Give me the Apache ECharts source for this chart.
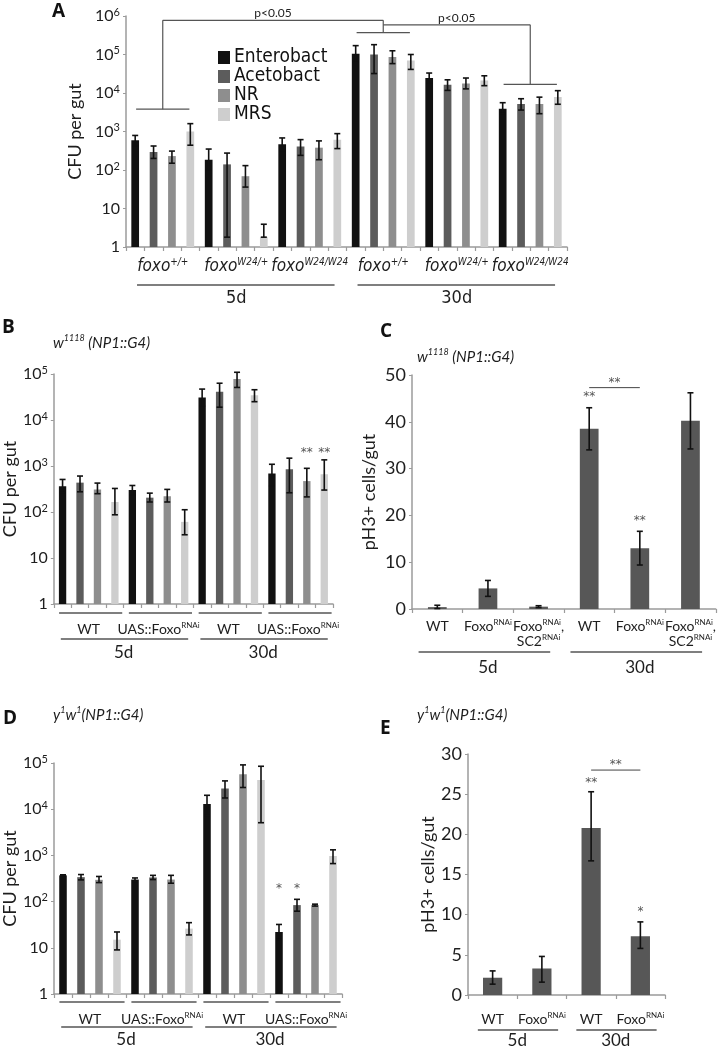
<!DOCTYPE html>
<html>
<head>
<meta charset="utf-8">
<script src="https://cdn.jsdelivr.net/npm/echarts@6/dist/echarts.min.js"></script>
<style>html,body{margin:0;padding:0;background:#fff;}#chart{width:719px;height:1050px;}</style>
</head>
<body>
<div id="chart"></div>
<script>
// ===================== DATA =====================
const seriesNames = ['Enterobact', 'Acetobact', 'NR', 'MRS'];

// ---- Panel A ----
const A_groups = ['foxo^{+/+}', 'foxo^{W24/+}', 'foxo^{W24/W24}', 'foxo^{+/+}', 'foxo^{W24/+}', 'foxo^{W24/W24}'];
const A_periods = ['5d', '30d'];
const A_ent = [590, 185, 465, 105000, 24500, 3900];
const A_ace = [295, 140, 410, 100000, 16500, 5200];
const A_nr  = [230, 69, 380, 86000, 17700, 5200];
const A_mrs = [1000, 1.8, 615, 70000, 21000, 7900];
const A_entErr = [[420, 790], [100, 350], [320, 680], [63000, 170000], [18000, 33000], [2900, 5600]];
const A_aceErr = [[200, 420], [1.8, 275], [240, 615], [32000, 180000], [11700, 22000], [3600, 7100]];
const A_nrErr  = [[150, 310], [36, 130], [185, 570], [58000, 125000], [12800, 24500], [2900, 7800]];
const A_mrsErr = [[440, 1600], [1.8, 3.9], [360, 880], [41000, 100000], [15500, 28000], [5100, 11500]];
// [leftGroup, rightGroup, topValue, leftLegEnd(0=none), rightLegEnd, label]
const A_brackets = [[0, 3, 770000, 3800, 370000, 'p<0.05'], [3, 5, 590000, 0, 16700, 'p<0.05']];

// ---- Panel B ----
const B_title = 'w^{1118} (NP1::G4)';
const B_groups = ['WT', 'UAS::Foxo^{RNAi}', 'WT', 'UAS::Foxo^{RNAi}'];
const B_periods = ['5d', '30d'];
const B_ent = [365, 300, 31000, 690];
const B_ace = [435, 205, 41000, 850];
const B_nr  = [310, 220, 78000, 470];
const B_mrs = [165, 61, 34500, 660];
const B_entErr = [[262, 510], [236, 377], [20000, 47000], [365, 1090]];
const B_aceErr = [[275, 605], [165, 257], [19000, 63000], [262, 1480]];
const B_nrErr  = [[250, 425], [165, 310], [51000, 109000], [213, 890]];
const B_mrsErr = [[87, 325], [32, 112], [25000, 45500], [300, 1360]];
const B_stars = [[3, 2, 2100, '**'], [3, 3, 2100, '**']]; // [group, series, value, text]

// ---- Panel C ----
const C_title = 'w^{1118} (NP1::G4)';
const C_cats = ['WT', 'Foxo^{RNAi}', 'Foxo^{RNAi},\nSC2^{RNAi}', 'WT', 'Foxo^{RNAi}', 'Foxo^{RNAi},\nSC2^{RNAi}'];
const C_periods = ['5d', '30d'];
const C_vals = [0.4, 4.4, 0.5, 38.5, 13.0, 40.2];
const C_err = [[0.1, 0.8], [2.7, 6.1], [0.3, 0.7], [34.0, 43.0], [9.4, 16.6], [34.2, 46.2]];
const C_stars = [[3, 45.8, '**'], [4, 19.3, '**']];
const C_brackets = [[3, 4, 47.3, '**']];

// ---- Panel D ----
const D_title = 'y^{1}w^{1}(NP1::G4)';
const D_groups = ['WT', 'UAS::Foxo^{RNAi}', 'WT', 'UAS::Foxo^{RNAi}'];
const D_periods = ['5d', '30d'];
const D_ent = [370, 300, 13000, 22];
const D_ace = [338, 333, 28000, 84];
const D_nr  = [296, 300, 57000, 84];
const D_mrs = [15, 26, 43000, 970];
const D_entErr = [[360, 380], [275, 325], [7400, 20000], [15, 32]];
const D_aceErr = [[295, 385], [300, 370], [17500, 41000], [62, 112]];
const D_nrErr  = [[258, 350], [250, 370], [29500, 91000], [80, 88]];
const D_mrsErr = [[9, 22], [19, 35], [5100, 85000], [665, 1320]];
const D_stars = [[3, 0, 204, '*'], [3, 1, 204, '*']];

// ---- Panel E ----
const E_title = 'y^{1}w^{1}(NP1::G4)';
const E_cats = ['WT', 'Foxo^{RNAi}', 'WT', 'Foxo^{RNAi}'];
const E_periods = ['5d', '30d'];
const E_vals = [2.15, 3.3, 20.8, 7.3];
const E_err = [[1.35, 3.0], [1.6, 4.8], [16.7, 25.3], [5.8, 9.1]];
const E_stars = [[2, 26.6, '**'], [3, 10.6, '*']];
const E_brackets = [[2, 3, 28.0, '**']];

// ===================== STYLE / BUILD =====================
const SANS = "Lato, 'Open Sans', sans-serif";
const NARROW = "'Liberation Sans Narrow', 'DejaVu Sans Condensed', sans-serif";
const STAR_FONT = "'DejaVu Sans', sans-serif";
const AXIS_GRAY = '#9b9b9b';
const TEXT = '#1e1e1e';
const BAR_COLORS = ['#111111', '#5c5c5c', '#8e8e8e', '#cecece'];
const SINGLE_BAR = '#575757';

function toRich(str, b, s) {
  return str.split('\n').map(line => {
    let out = '', last = 0, m;
    const re = /\^\{([^}]*)\}/g;
    while ((m = re.exec(line))) {
      if (m.index > last) out += '{' + b + '|' + line.slice(last, m.index) + '}';
      out += '{' + s + '|' + m[1] + '}';
      last = re.lastIndex;
    }
    if (last < line.length) out += '{' + b + '|' + line.slice(last) + '}';
    return out;
  }).join('\n');
}

function logLabel(v) {
  const e = Math.round(Math.log10(v));
  if (e === 0) return '{b|1}';
  if (e === 1) return '{b|10}';
  return '{b|10}{s|' + e + '}';
}
const logRich = {
  b: { fontSize: 16, fontFamily: SANS, color: TEXT, lineHeight: 19, verticalAlign: 'middle' },
  s: { fontSize: 11, fontFamily: SANS, color: TEXT, lineHeight: 11, verticalAlign: 'top' }
};
const catRich = {
  n: { fontSize: 14, fontFamily: SANS, color: TEXT, lineHeight: 15, verticalAlign: 'bottom' },
  s: { fontSize: 8, fontFamily: SANS, color: TEXT, lineHeight: 8, verticalAlign: 'top' }
};
const groupRichA = {
  n: { fontSize: 17, fontFamily: NARROW, fontStyle: 'italic', color: TEXT, lineHeight: 18, verticalAlign: 'bottom' },
  s: { fontSize: 10, fontFamily: NARROW, fontStyle: 'italic', color: TEXT, lineHeight: 10, verticalAlign: 'top' }
};
const titleRich = {
  n: { fontSize: 15, fontFamily: SANS, fontStyle: 'italic', fontWeight: 'normal', color: TEXT, lineHeight: 17, verticalAlign: 'bottom' },
  s: { fontSize: 9, fontFamily: SANS, fontStyle: 'italic', fontWeight: 'normal', color: TEXT, lineHeight: 9, verticalAlign: 'top' }
};

const grids = [
  { left: 126, top: 16, width: 441, height: 231 },  // A
  { left: 53, top: 374, width: 280, height: 230 },  // B
  { left: 412, top: 375, width: 304, height: 234 }, // C
  { left: 54, top: 763, width: 288, height: 231 },  // D
  { left: 468, top: 754, width: 197, height: 241 }  // E
];

const xAxes = [], yAxes = [], series = [];

function barAxis(gridIndex, cats) {
  xAxes.push({
    type: 'category', gridIndex, data: cats, position: 'bottom',
    axisLine: { onZero: false, lineStyle: { color: AXIS_GRAY, width: 1.5 } },
    axisTick: { show: true, interval: 0, length: 4, lineStyle: { color: AXIS_GRAY, width: 1.2 } },
    axisLabel: { show: false }, splitLine: { show: false }
  });
  return xAxes.length - 1;
}
function labelAxis(gridIndex, cats, margin, formatter, rich, extra) {
  xAxes.push(Object.assign({
    type: 'category', gridIndex, data: cats, position: 'bottom',
    axisLine: { show: false, onZero: false }, axisTick: { show: false }, splitLine: { show: false },
    axisLabel: { interval: 0, margin, formatter, rich, color: TEXT }
  }, extra || {}));
  return xAxes.length - 1;
}
function logYAxis(gridIndex, max, nameGap) {
  yAxes.push({
    type: 'log', logBase: 10, gridIndex, min: 1, max,
    name: 'CFU per gut', nameLocation: 'middle', nameGap, nameRotate: 90,
    nameTextStyle: { fontSize: 18, fontFamily: SANS, color: TEXT },
    axisLine: { show: true, lineStyle: { color: AXIS_GRAY, width: 1.5 } },
    axisTick: { show: true, length: 3, lineStyle: { color: AXIS_GRAY } },
    splitLine: { show: false }, minorTick: { show: false },
    axisLabel: { formatter: logLabel, rich: logRich, margin: 6 }
  });
  return yAxes.length - 1;
}
function linYAxis(gridIndex, max, interval, nameGap) {
  yAxes.push({
    type: 'value', gridIndex, min: 0, max, interval,
    name: 'pH3+ cells/gut', nameLocation: 'middle', nameGap, nameRotate: 90,
    nameTextStyle: { fontSize: 18, fontFamily: SANS, color: TEXT },
    axisLine: { show: true, lineStyle: { color: AXIS_GRAY, width: 1.5 } },
    axisTick: { show: true, length: 3, lineStyle: { color: AXIS_GRAY } },
    splitLine: { show: false },
    axisLabel: { fontSize: 18, fontFamily: SANS, color: TEXT, margin: 6 }
  });
  return yAxes.length - 1;
}

function renderErr(params, api) {
  const lo = api.coord([api.value(0), api.value(1)]);
  const hi = api.coord([api.value(0), api.value(2)]);
  const x = lo[0], w = 3;
  const st = { stroke: '#111', lineWidth: 1.6 };
  return { type: 'group', children: [
    { type: 'line', shape: { x1: x, y1: lo[1], x2: x, y2: hi[1] }, style: st },
    { type: 'line', shape: { x1: x - w, y1: lo[1], x2: x + w, y2: lo[1] }, style: st },
    { type: 'line', shape: { x1: x - w, y1: hi[1], x2: x + w, y2: hi[1] }, style: st }
  ] };
}
function errSeries(xi, yi, data) {
  series.push({ type: 'custom', xAxisIndex: xi, yAxisIndex: yi, data, encode: { x: 0, y: [1, 2] },
    renderItem: renderErr, clip: false, silent: true, z: 4 });
}
function cfuPanel(xi, yi, nGroups, vals, errs) {
  vals.forEach((v, s) => {
    const data = [];
    for (let g = 0; g < nGroups; g++) for (let k = 0; k < 4; k++) data.push(k === s ? v[g] : null);
    series.push({ type: 'bar', name: seriesNames[s], xAxisIndex: xi, yAxisIndex: yi, data,
      barWidth: '42%', barGap: '-100%', itemStyle: { color: BAR_COLORS[s] }, silent: true });
  });
  const ed = [];
  errs.forEach((e, s) => e.forEach((p, g) => ed.push([g * 4 + s, p[0], p[1]])));
  errSeries(xi, yi, ed);
}
function underline(xi, yi, spans, base, offset, padL, padR) {
  series.push({ type: 'custom', xAxisIndex: xi, yAxisIndex: yi, clip: false, silent: true,
    data: spans.map(s => [s[0], s[1], base]), encode: { x: [0, 1], y: 2 },
    renderItem: (params, api) => {
      const band = api.size([1, 0])[0];
      const cs = params.coordSys;
      const x1 = api.coord([api.value(0), base])[0] - band / 2 + padL * band;
      const x2 = api.coord([api.value(1), base])[0] + band / 2 - padR * band;
      const y = cs.y + cs.height + offset;
      return { type: 'line', shape: { x1, y1: y, x2, y2: y }, style: { stroke: '#555', lineWidth: 1.3 } };
    } });
}
function textEl(x, y, text, font, color) {
  return { type: 'text', style: { x, y, text, fill: color || '#444', font,
    align: 'center', verticalAlign: 'middle', textAlign: 'center', textVerticalAlign: 'middle' } };
}
function stars(xi, yi, items) {
  series.push({ type: 'custom', xAxisIndex: xi, yAxisIndex: yi, clip: false, silent: true, z: 5,
    data: items.map(d => [d[0], d[1]]), encode: { x: 0, y: 1 },
    renderItem: (params, api) => {
      const p = api.coord([api.value(0), api.value(1)]);
      return textEl(p[0], p[1] + 2, items[params.dataIndex][2], '12px ' + STAR_FONT, '#555');
    } });
}
function sigBrackets(xi, yi, items) {
  series.push({ type: 'custom', xAxisIndex: xi, yAxisIndex: yi, clip: false, silent: true, z: 5,
    data: items.map(d => [d[0], d[1], d[2]]), encode: { x: [0, 1], y: 2 },
    renderItem: (params, api) => {
      const a = api.coord([api.value(0), api.value(2)]);
      const b = api.coord([api.value(1), api.value(2)]);
      return { type: 'group', children: [
        { type: 'line', shape: { x1: a[0], y1: a[1], x2: b[0], y2: b[1] }, style: { stroke: '#444', lineWidth: 1 } },
        textEl((a[0] + b[0]) / 2, a[1] - 5, items[params.dataIndex][3], '12px ' + STAR_FONT, '#555')
      ] };
    } });
}

// ---------- Panel A ----------
const A_barCats = [];
A_groups.forEach(g => seriesNames.forEach(s => A_barCats.push(g + ' ' + s)));
const axA = barAxis(0, A_barCats);
labelAxis(0, A_groups, 10, v => toRich(v, 'n', 's'), groupRichA);
labelAxis(0, A_periods, 42, null, null, { axisLabel: { interval: 0, margin: 42, fontSize: 18, fontFamily: NARROW, color: TEXT } });
const ayA = logYAxis(0, 1e6, 33);
cfuPanel(axA, ayA, 6, [A_ent, A_ace, A_nr, A_mrs], [A_entErr, A_aceErr, A_nrErr, A_mrsErr]);
underline(axA, ayA, [[0, 11], [12, 23]], 1, 38, 0.6, 0.65);
series.push({ type: 'custom', xAxisIndex: axA, yAxisIndex: ayA, clip: false, silent: true, z: 5,
  data: A_brackets.map(d => [d[0], d[1], d[2], d[3], d[4]]), encode: { x: 0, y: 2 },
  renderItem: (params, api) => {
    const top = api.value(2), lEnd = api.value(3), rEnd = api.value(4);
    const band = api.size([1, 0])[0];
    const gc = g => (api.coord([g * 4 + 1, top])[0] + api.coord([g * 4 + 2, top])[0]) / 2;
    const xl = gc(api.value(0)), xr = gc(api.value(1));
    const yT = api.coord([0, top])[1];
    const st = { stroke: '#555', lineWidth: 1.2 };
    const ch = [{ type: 'line', shape: { x1: xl, y1: yT, x2: xr, y2: yT }, style: st }];
    [[xl, lEnd], [xr, rEnd]].forEach(([x, e]) => {
      if (e > 0) {
        const yE = api.coord([0, e])[1];
        ch.push({ type: 'line', shape: { x1: x, y1: yT, x2: x, y2: yE }, style: st });
        ch.push({ type: 'line', shape: { x1: x - 1.45 * band, y1: yE, x2: x + 1.45 * band, y2: yE }, style: st });
      }
    });
    ch.push(textEl((xl + xr) / 2, yT - 7, A_brackets[params.dataIndex][5], '12px ' + SANS, '#222'));
    return { type: 'group', children: ch };
  } });

// ---------- Panel B ----------
const B_barCats = [];
B_groups.forEach(g => seriesNames.forEach(s => B_barCats.push(g + ' ' + s)));
const axB = barAxis(1, B_barCats);
labelAxis(1, B_groups, 17, v => toRich(v, 'n', 's'), catRich);
labelAxis(1, B_periods, 40, null, null, { axisLabel: { interval: 0, margin: 40, fontSize: 17, fontFamily: SANS, color: TEXT } });
const ayB = logYAxis(1, 1e5, 30);
cfuPanel(axB, ayB, 4, [B_ent, B_ace, B_nr, B_mrs], [B_entErr, B_aceErr, B_nrErr, B_mrsErr]);
underline(axB, ayB, [[0, 3], [4, 7], [8, 11], [12, 15]], 1, 9, 0.3, 0.08);
underline(axB, ayB, [[0, 7], [8, 15]], 1, 35, 0.4, 0.3);
stars(axB, ayB, B_stars.map(s => [s[0] * 4 + s[1], s[2], s[3]]));

// ---------- Panel C ----------
const axC = barAxis(2, C_cats);
xAxes[axC].axisLabel = { show: true, interval: 0, margin: 9, formatter: v => toRich(v, 'n', 's'), rich: catRich, color: TEXT };
labelAxis(2, C_periods, 50, null, null, { axisLabel: { interval: 0, margin: 50, fontSize: 17, fontFamily: SANS, color: TEXT } });
const ayC = linYAxis(2, 50, 10, 34);
series.push({ type: 'bar', xAxisIndex: axC, yAxisIndex: ayC, data: C_vals, barWidth: '37%',
  itemStyle: { color: SINGLE_BAR }, silent: true });
errSeries(axC, ayC, C_err.map((e, i) => [i, e[0], e[1]]));
underline(axC, ayC, [[0, 2], [3, 5]], 0, 43, 0.13, 0.27);
stars(axC, ayC, C_stars);
sigBrackets(axC, ayC, C_brackets);

// ---------- Panel D ----------
const D_barCats = [];
D_groups.forEach(g => seriesNames.forEach(s => D_barCats.push(g + ' ' + s)));
const axD = barAxis(3, D_barCats);
labelAxis(3, D_groups, 17, v => toRich(v, 'n', 's'), catRich);
labelAxis(3, D_periods, 37, null, null, { axisLabel: { interval: 0, margin: 37, fontSize: 17, fontFamily: SANS, color: TEXT } });
const ayD = logYAxis(3, 1e5, 31);
cfuPanel(axD, ayD, 4, [D_ent, D_ace, D_nr, D_mrs], [D_entErr, D_aceErr, D_nrErr, D_mrsErr]);
underline(axD, ayD, [[0, 3], [4, 7], [8, 11], [12, 15]], 1, 8, 0.3, 0.08);
underline(axD, ayD, [[0, 7], [8, 15]], 1, 33, 0.4, 0.3);
stars(axD, ayD, D_stars.map(s => [s[0] * 4 + s[1], s[2], s[3]]));

// ---------- Panel E ----------
const axE = barAxis(4, E_cats);
xAxes[axE].axisLabel = { show: true, interval: 0, margin: 16, formatter: v => toRich(v, 'n', 's'), rich: catRich, color: TEXT };
labelAxis(4, E_periods, 37, null, null, { axisLabel: { interval: 0, margin: 37, fontSize: 17, fontFamily: SANS, color: TEXT } });
const ayE = linYAxis(4, 30, 5, 27);
series.push({ type: 'bar', xAxisIndex: axE, yAxisIndex: ayE, data: E_vals, barWidth: '39%',
  itemStyle: { color: SINGLE_BAR }, silent: true });
errSeries(axE, ayE, E_err.map((e, i) => [i, e[0], e[1]]));
underline(axE, ayE, [[0, 1], [2, 3]], 0, 35, 0.2, 0.17);
stars(axE, ayE, E_stars);
sigBrackets(axE, ayE, E_brackets);

// ---------- titles ----------
const letterStyle = { fontSize: 19, fontWeight: 'bold', fontFamily: "'Open Sans', sans-serif", color: '#111' };
const subStyle = { fontWeight: 'normal', rich: titleRich };
const titles = [
  { text: 'A', left: 52, top: 2, padding: 0, textStyle: letterStyle },
  { text: 'B', left: 2, top: 318, padding: 0, textStyle: letterStyle },
  { text: 'C', left: 380, top: 322, padding: 0, textStyle: letterStyle },
  { text: 'D', left: 3, top: 709, padding: 0, textStyle: letterStyle },
  { text: 'E', left: 380, top: 719, padding: 0, textStyle: letterStyle },
  { text: toRich(B_title, 'n', 's'), left: 53, top: 334, padding: 0, textStyle: subStyle },
  { text: toRich(C_title, 'n', 's'), left: 417, top: 348, padding: 0, textStyle: subStyle },
  { text: toRich(D_title, 'n', 's'), left: 53, top: 706, padding: 0, textStyle: subStyle },
  { text: toRich(E_title, 'n', 's'), left: 417, top: 706, padding: 0, textStyle: subStyle }
];

const chart = echarts.init(document.getElementById('chart'), null, { renderer: 'canvas' });
chart.setOption({
  animation: false,
  backgroundColor: '#fff',
  title: titles,
  legend: {
    data: seriesNames, orient: 'vertical', left: 218, top: 48, itemGap: 0,
    itemWidth: 12, itemHeight: 13, icon: 'rect', padding: 0, selectedMode: false,
    textStyle: { fontSize: 19, lineHeight: 17, fontFamily: NARROW, color: '#111', padding: [0, 0, 0, -1] }
  },
  grid: grids,
  xAxis: xAxes,
  yAxis: yAxes,
  series
});
</script>
</body>
</html>
